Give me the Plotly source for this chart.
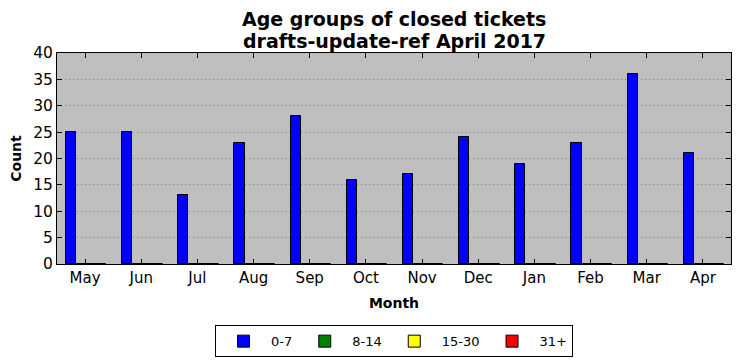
import plotly.graph_objects as go

months = ["May", "Jun", "Jul", "Aug", "Sep", "Oct", "Nov", "Dec", "Jan", "Feb", "Mar", "Apr"]
age_0_7 = [25, 25, 13, 23, 28, 16, 17, 24, 19, 23, 36, 21]
age_8_14 = [0] * 12
age_15_30 = [0] * 12
age_31_plus = [0] * 12
series_names = ["0-7", "8-14", "15-30", "31+"]
series_colors = ["#0000ff", "#008000", "#ffff00", "#ff0000"]
y_ticks = [0, 5, 10, 15, 20, 25, 30, 35, 40]
title_lines = ["Age groups of closed tickets", "drafts-update-ref April 2017"]

xs = list(range(len(months)))
fig = go.Figure()
for i, (name, vals, col) in enumerate(zip(series_names, [age_0_7, age_8_14, age_15_30, age_31_plus], series_colors)):
    fig.add_trace(go.Bar(
        x=xs, y=vals, name=name,
        width=0.18, offset=-0.34 + i * 0.18,
        marker=dict(color=col, line=dict(color="black", width=1)),
    ))

font = "DejaVu Sans, sans-serif"
title_annots = [
    dict(text="<b>" + line + "</b>", x=0.5, xref="paper", xanchor="center",
         y=1, yref="paper", yanchor="middle", yshift=shift,
         showarrow=False, font=dict(size=19))
    for line, shift in zip(title_lines, [34, 12])
]
fig.update_layout(
    width=741, height=361,
    margin=dict(l=49, r=18, t=45, b=105, autoexpand=False),
    paper_bgcolor="white", plot_bgcolor="#bfbfbf",
    font=dict(family=font, size=13, color="black"),
    showlegend=True,
    legend=dict(orientation="h", x=0.5, xref="paper", xanchor="center",
                y=-0.29, yanchor="top", bordercolor="black", borderwidth=1,
                font=dict(size=13), traceorder="normal", itemwidth=45),
    bargap=0,
    annotations=title_annots,
)
fig.update_xaxes(
    tickmode="array", tickvals=xs, ticktext=months, range=[-0.5, 11.5],
    ticks="inside", ticklen=5, tickcolor="black", mirror="ticks",
    showline=True, linecolor="black", linewidth=1, showgrid=False, zeroline=False,
    tickfont=dict(size=15), automargin=False,
    title=dict(text="<b>Month</b>", font=dict(size=14), standoff=12),
)
fig.update_yaxes(
    tickmode="array", tickvals=y_ticks, range=[0, 40],
    ticks="inside", ticklen=5, tickcolor="black", mirror="ticks",
    showline=True, linecolor="black", linewidth=1,
    showgrid=True, gridcolor="#808080", griddash="1px,3px", gridwidth=1, zeroline=False,
    tickfont=dict(size=15.5), automargin=False,
    title=dict(text="<b>Count</b>", font=dict(size=14), standoff=8),
)
fig.write_html("out.html")
